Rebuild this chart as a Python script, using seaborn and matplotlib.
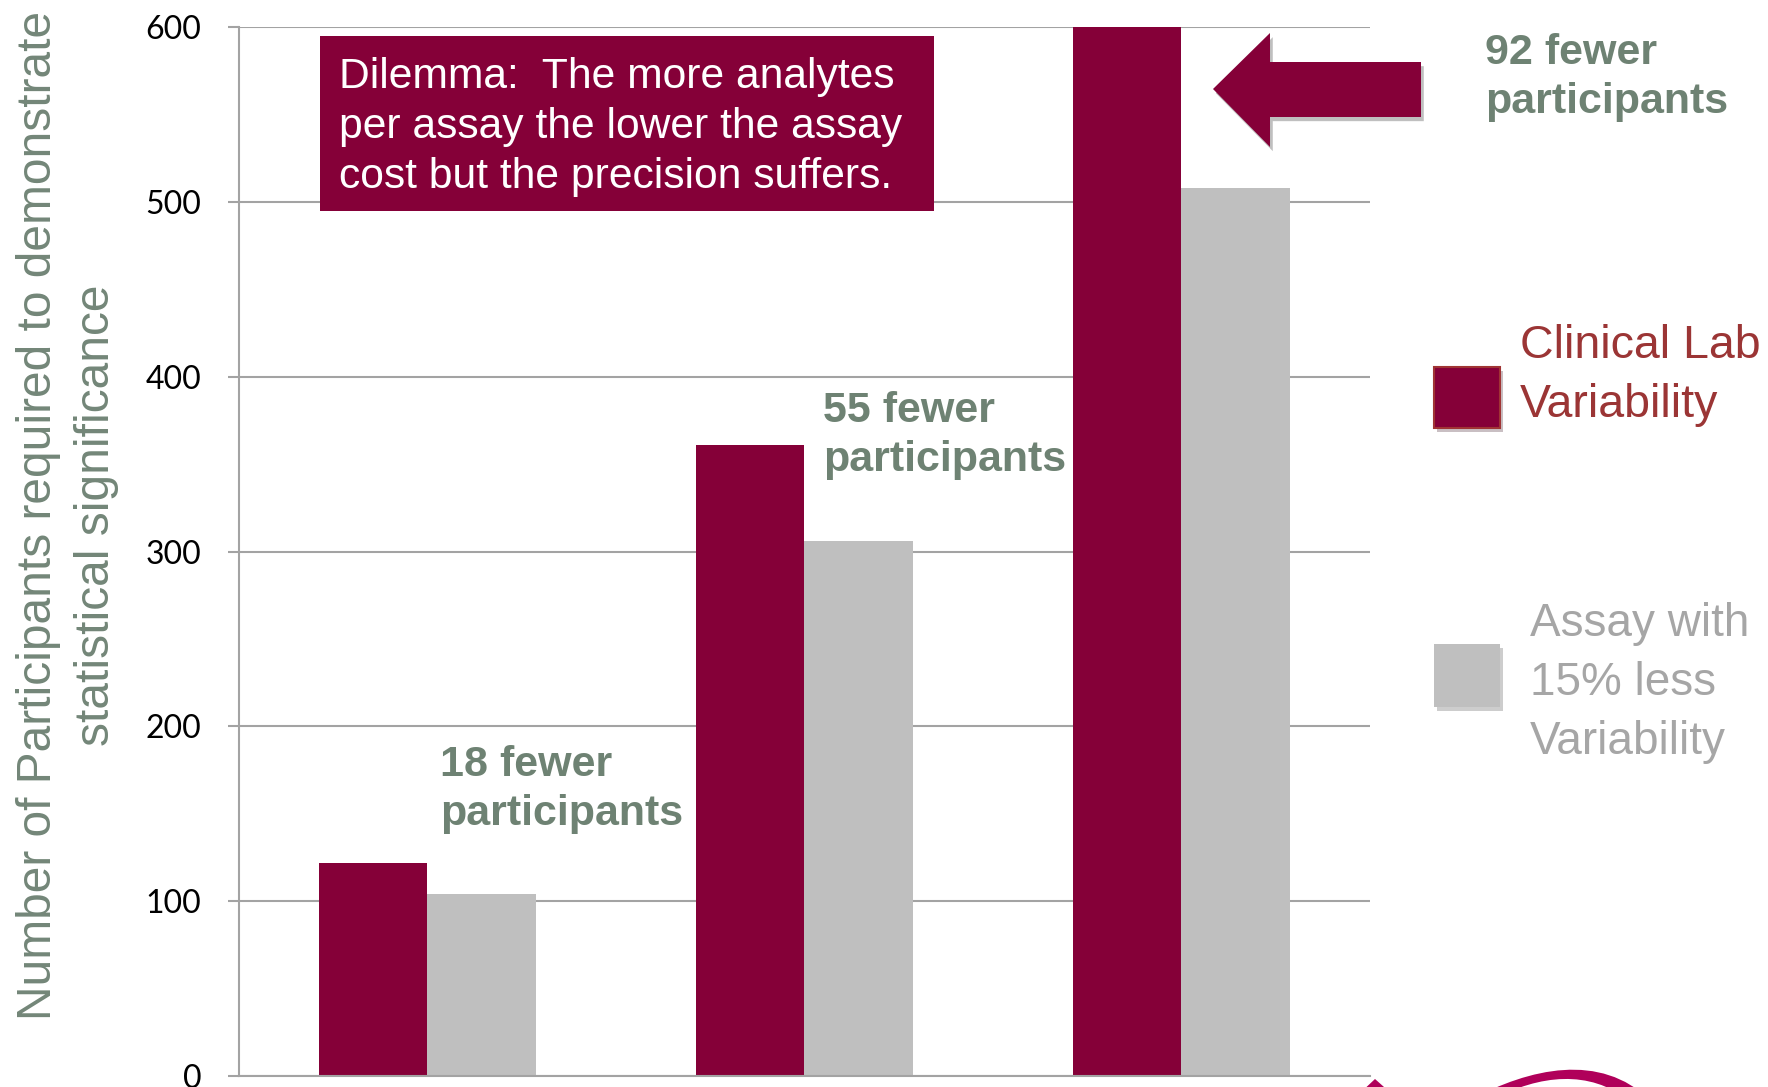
import pandas as pd
import seaborn as sns
import matplotlib.pyplot as plt
from matplotlib.patches import Rectangle, Polygon, PathPatch
from matplotlib.path import Path
from matplotlib.transforms import Affine2D
import matplotlib.patheffects as pe

# --- data -------------------------------------------------------------
groups = ["Group 1", "Group 2", "Group 3"]
clinical_lab = [122, 361, 600]
assay_15_less = [104, 306, 508]
series_names = ["Clinical Lab Variability", "Assay with 15% less Variability"]
fewer_labels = ["18 fewer\nparticipants", "55 fewer\nparticipants", "92 fewer\nparticipants"]
y_ticks = [0, 100, 200, 300, 400, 500, 600]

W, H = 1768, 1087
RED = "#850038"
GREY = "#BFBFBF"
SAGE = "#738678"
SAGE_BOLD = "#6E8273"
GRID = "#A3A3A3"
MAGENTA = "#B0005A"

df = pd.DataFrame({
    "group": groups * 2,
    "series": [series_names[0]] * len(groups) + [series_names[1]] * len(groups),
    "participants": clinical_lab + assay_15_less,
})

sns.set_theme(style="white")
plt.rcParams["font.family"] = ["Liberation Sans", "DejaVu Sans"]

fig = plt.figure(figsize=(W / 100, H / 100), dpi=100)
# pixel coordinates (origin top-left) for free-standing decorations
px = Affine2D().scale(1 / W, -1 / H).translate(0, 1) + fig.transFigure

ax = fig.add_axes([239 / W, 1 - 1076 / H, (1370 - 239) / W, (1076 - 27) / H])
sns.barplot(data=df, x="group", y="participants", hue="series",
            hue_order=series_names, palette=[RED, GREY], width=0.576,
            saturation=1, errorbar=None, legend=False, linewidth=0, ax=ax)

ax.set_xlim(-0.5, 2.5)
ax.set_ylim(0, 600)
ax.set_yticks(y_ticks)
ax.set_axisbelow(True)
ax.yaxis.grid(True, color=GRID, linewidth=1.5)
ax.xaxis.grid(False)
ax.set_xlabel("")
ax.set_ylabel("")
ax.set_xticks([])
for side in ("top", "right"):
    ax.spines[side].set_visible(False)
for side in ("left", "bottom"):
    ax.spines[side].set_color(GRID)
    ax.spines[side].set_linewidth(1.5)
ax.tick_params(axis="y", left=True, length=8, width=1.5, color=GRID, pad=19,
               labelsize=23, labelcolor="black")
for lbl in ax.get_yticklabels():
    lbl.set_fontfamily("Lato")

# y-axis title (anchor = baseline of the second line)
fig.text(96, 515, "Number of Participants required to demonstrate\nstatistical significance",
         transform=px, rotation=90, rotation_mode="anchor", ha="center", va="baseline",
         multialignment="center", fontsize=34.5, color=SAGE, linespacing=1.36)

# "fewer participants" call-outs (anchor = baseline of the second line)
callout_pos = [(440, 825), (823, 471), (1485, 113)]
for (x, y), txt in zip(callout_pos, fewer_labels):
    fig.text(x, y, txt, transform=px, ha="left", va="baseline", fontsize=31,
             fontweight="bold", color=SAGE_BOLD, linespacing=1.30)

# dilemma box
fig.patches.append(Rectangle((320, 36), 614, 175, transform=px, facecolor=RED,
                             edgecolor="none", zorder=5))
fig.text(339, 188, "Dilemma:  The more analytes\nper assay the lower the assay\ncost but the precision suffers.",
         transform=px, ha="left", va="baseline", fontsize=30.7, color="white",
         linespacing=1.33, zorder=6)

# block arrow pointing at the third group
shadow = [pe.SimplePatchShadow(offset=(2, -3), shadow_rgbFace="black", alpha=0.25), pe.Normal()]
arrow = Polygon([(1213, 89), (1270, 33), (1270, 62), (1421, 62), (1421, 117),
                 (1270, 117), (1270, 147)], closed=True, transform=px,
                facecolor=RED, edgecolor="none", zorder=5)
arrow.set_path_effects(shadow)
fig.patches.append(arrow)

# legend
sq_red = Rectangle((1434, 367), 66, 61, transform=px, facecolor=RED,
                   edgecolor="#A03434", linewidth=1.5)
sq_grey = Rectangle((1434, 644), 66, 63, transform=px, facecolor=GREY,
                    edgecolor="none")
for sq in (sq_red, sq_grey):
    sq.set_path_effects([pe.SimplePatchShadow(offset=(2, -3), alpha=0.25), pe.Normal()])
    fig.patches.append(sq)
fig.text(1520, 417, "Clinical Lab\nVariability", transform=px, ha="left", va="baseline",
         fontsize=33.5, color="#9B3535", linespacing=1.43)
fig.text(1530, 754, "Assay with\n15% less\nVariability", transform=px, ha="left",
         va="baseline", fontsize=33, color="#A6A6A6", linespacing=1.44)

# magenta swoosh peeking in at the lower edge
swoosh = Path([(1470, 1100), (1530, 1068), (1600, 1052), (1650, 1100),
               (1628, 1100), (1590, 1070), (1540, 1074), (1492, 1100), (1470, 1100)],
              [Path.MOVETO, Path.CURVE4, Path.CURVE4, Path.CURVE4,
               Path.LINETO, Path.CURVE4, Path.CURVE4, Path.CURVE4, Path.CLOSEPOLY])
fig.patches.append(PathPatch(swoosh, transform=px, facecolor=MAGENTA, edgecolor="none"))
fig.patches.append(Polygon([(1358, 1095), (1375, 1079), (1393, 1095)], closed=True,
                           transform=px, facecolor=MAGENTA, edgecolor="none"))

fig.savefig("out.png", dpi=100)
